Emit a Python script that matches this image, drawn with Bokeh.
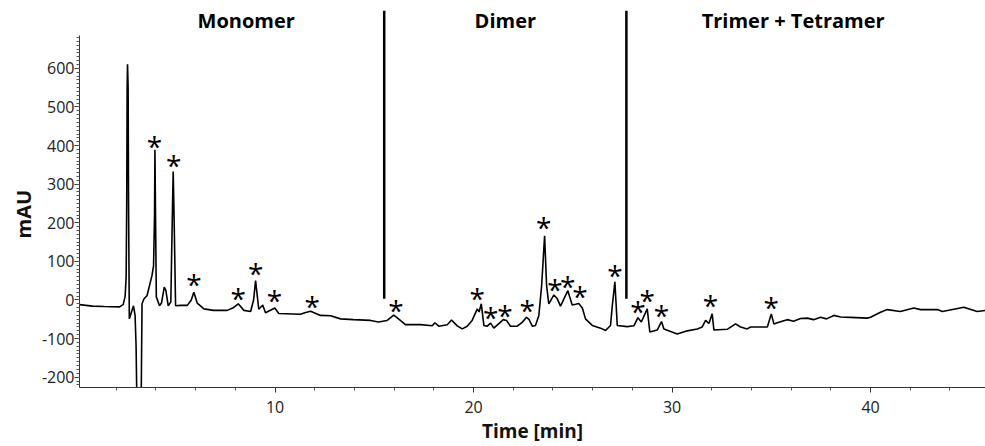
from bokeh.plotting import figure
from bokeh.models import FixedTicker, Range1d, Title
from bokeh.core.properties import value
from bokeh.embed import file_html
from bokeh.resources import INLINE

# chromatogram trace (time in min, absorbance in mAU)
time_min = [0.15, 0.8, 1.4, 2.17, 2.35, 2.45, 2.50, 2.53, 2.55, 2.57, 2.60, 2.62, 2.66,
            2.87, 2.95, 3.00, 3.05, 3.25, 3.30, 3.40, 3.55, 3.80, 3.88, 3.93, 3.95, 3.98,
            4.02, 4.18, 4.28, 4.42, 4.50, 4.62, 4.75, 4.82, 4.87, 4.92, 4.99, 5.25, 5.58,
            5.78, 5.91, 6.08, 6.42, 6.90, 7.59, 7.90, 8.15, 8.43, 8.77, 8.92, 9.02, 9.18,
            9.38, 9.52, 9.99, 10.19, 11.28, 11.5, 11.79, 12.29, 12.8, 13.3, 13.95, 14.81,
            15.21, 15.65, 15.98, 16.22, 16.57, 17.33, 17.92, 18.05, 18.25, 18.68, 18.89,
            19.18, 19.43, 19.68, 19.93, 20.19, 20.28, 20.39, 20.52, 20.69, 20.86, 21.02,
            21.26, 21.50, 21.66, 21.86, 22.20, 22.45, 22.67, 22.79, 22.96, 23.12, 23.29,
            23.43, 23.58, 23.68, 23.79, 24.05, 24.22, 24.38, 24.75, 24.97, 25.14, 25.30,
            25.48, 25.64, 25.98, 26.40, 26.65, 26.90, 26.99, 27.12, 27.24, 27.74, 28.08,
            28.28, 28.45, 28.75, 28.88, 29.25, 29.47, 29.59, 30.26, 30.77, 31.27, 31.52,
            31.69, 31.86, 32.02, 32.11, 32.78, 33.20, 33.45, 33.79, 33.95, 34.80, 35.00,
            35.13, 35.30, 35.80, 36.12, 36.47, 36.81, 37.13, 37.48, 37.78, 38.15, 38.49,
            38.99, 39.83, 40.0, 40.5, 40.84, 41.5, 42.18, 42.52, 43.36, 43.62, 44.70,
            45.37, 45.80]
signal_mau = [-12, -16, -17, -18, -12, 10, 60, 260, 549, 611, 549, 260, -49,
              -15, -40, -118, -300, -300, -10, 3, 11, 63, 88, 220, 389, 220,
              8, -15, -8, 33, 25, -15, -5, 200, 333, 200, -15, -14, -14,
              0, 20, -8, -23, -27, -27, -20, -10, -27, -30, 0, 50, -24,
              -13, -33, -21, -35, -37, -33, -29, -40, -41, -49, -51, -53,
              -57, -53, -39, -49, -64, -64, -67, -59, -68, -64, -52,
              -67, -75, -68, -53, -23, -31, -10, -66, -68, -60, -73,
              -62, -51, -53, -68, -68, -58, -45, -50, -68, -66, -40,
              37, 166, 37, -10, 13, 3, -16, 24, -13, -11, -9,
              -21, -49, -66, -73, -79, -66, -15, 47, -66, -69, -67,
              -46, -57, -23, -83, -78, -56, -75, -88, -80, -75, -70,
              -53, -61, -36, -78, -76, -62, -70, -75, -70, -70, -36,
              -62, -59, -51, -55, -48, -47, -51, -45, -49, -40, -44,
              -45, -47, -45, -32, -25, -30, -21, -25, -25, -30, -19,
              -30, -27]

# asterisk markers
star_time = [3.93, 4.90, 5.91, 8.15, 9.03, 9.97, 11.87, 16.09, 20.19, 20.86, 21.58,
             22.70, 23.54, 24.10, 24.75, 25.36, 27.12, 28.28, 28.75, 29.47, 31.94, 35.00]
star_mau = [405, 355, 46, 11, 76, 5, -10, -21, 10, -40, -34,
            -21, 194, 33, 41, 15, 71, -23, 4, -34, -9, -13]

# section dividers and labels
divider_time = [15.5, 27.7]
divider_bottom = [3, 3]
divider_top = [750, 750]
section_names = ["Monomer", "Dimer", "Trimer + Tetramer"]
section_time = [8.55, 21.6, 36.1]
section_mau = [724, 724, 724]

x_ticks = [10, 20, 30, 40]
x_minor = [2, 4, 6, 8, 12, 14, 16, 18, 22, 24, 26, 28, 32, 34, 36, 38, 42, 44]
y_ticks = [-200, -100, 0, 100, 200, 300, 400, 500, 600]
y_tick_labels = ["-200", "-100", "0", "100", "200", "300", "400", "500", "600"]
y_minor = [v for v in range(-220, 690, 10)]

FONT = "Open Sans"

p = figure(width=985, height=446, output_backend="svg", toolbar_location=None,
           x_range=Range1d(0.15, 45.79), y_range=Range1d(-226.8, 750),
           min_border_left=79, min_border_right=0, min_border_top=10,
           min_border_bottom=57)
p.outline_line_color = None
p.xgrid.visible = False
p.ygrid.visible = False
p.background_fill_color = "white"

for ax in (p.xaxis[0], p.yaxis[0]):
    ax.axis_line_color = "#333333"
    ax.axis_line_width = 1
    ax.major_tick_line_color = "#333333"
    ax.minor_tick_line_color = "#555555"
    ax.major_tick_in = 0
    ax.major_tick_out = 5
    ax.minor_tick_in = 0
    ax.minor_tick_out = 3
    ax.major_label_text_font = FONT
    ax.major_label_text_font_size = "16px"
    ax.major_label_text_color = "#222222"

p.xaxis.ticker = FixedTicker(ticks=x_ticks, minor_ticks=x_minor)
p.yaxis.ticker = FixedTicker(ticks=y_ticks, minor_ticks=y_minor)
p.yaxis.major_label_overrides = dict(zip(y_ticks, y_tick_labels))
p.yaxis.bounds = (-226.8, 686)
p.xaxis.major_label_standoff = 8
p.yaxis.major_label_standoff = 0

p.xaxis.axis_label = "Time [min]"
p.xaxis.axis_label_text_font = FONT
p.xaxis.axis_label_text_font_size = "19px"
p.xaxis.axis_label_text_font_style = "bold"
p.xaxis.axis_label_text_color = "#111111"
p.xaxis.axis_label_standoff = 2

# y-axis title as a side title, positioned along the drawn axis line
p.add_layout(Title(text="mAU", align="left", vertical_align="top", offset=149,
                   standoff=0, text_font=FONT, text_font_size="20px",
                   text_font_style="bold", text_color="#111111"), "left")

p.line(time_min, signal_mau, line_color="black", line_width=1.6)

p.segment(x0=divider_time, y0=divider_bottom, x1=divider_time, y1=divider_top,
          line_color="black", line_width=2.5)

p.text(x=star_time, y=star_mau, text=["*"] * len(star_time),
       text_font=value(FONT), text_font_size="28px", text_align="center",
       text_baseline="middle", y_offset=2, text_color="black")

p.text(x=section_time, y=section_mau, text=section_names,
       text_font=value(FONT), text_font_size="20px", text_font_style="bold",
       text_align="center", text_baseline="middle", text_color="black")

open("out.html", "w").write(file_html(p, INLINE))
